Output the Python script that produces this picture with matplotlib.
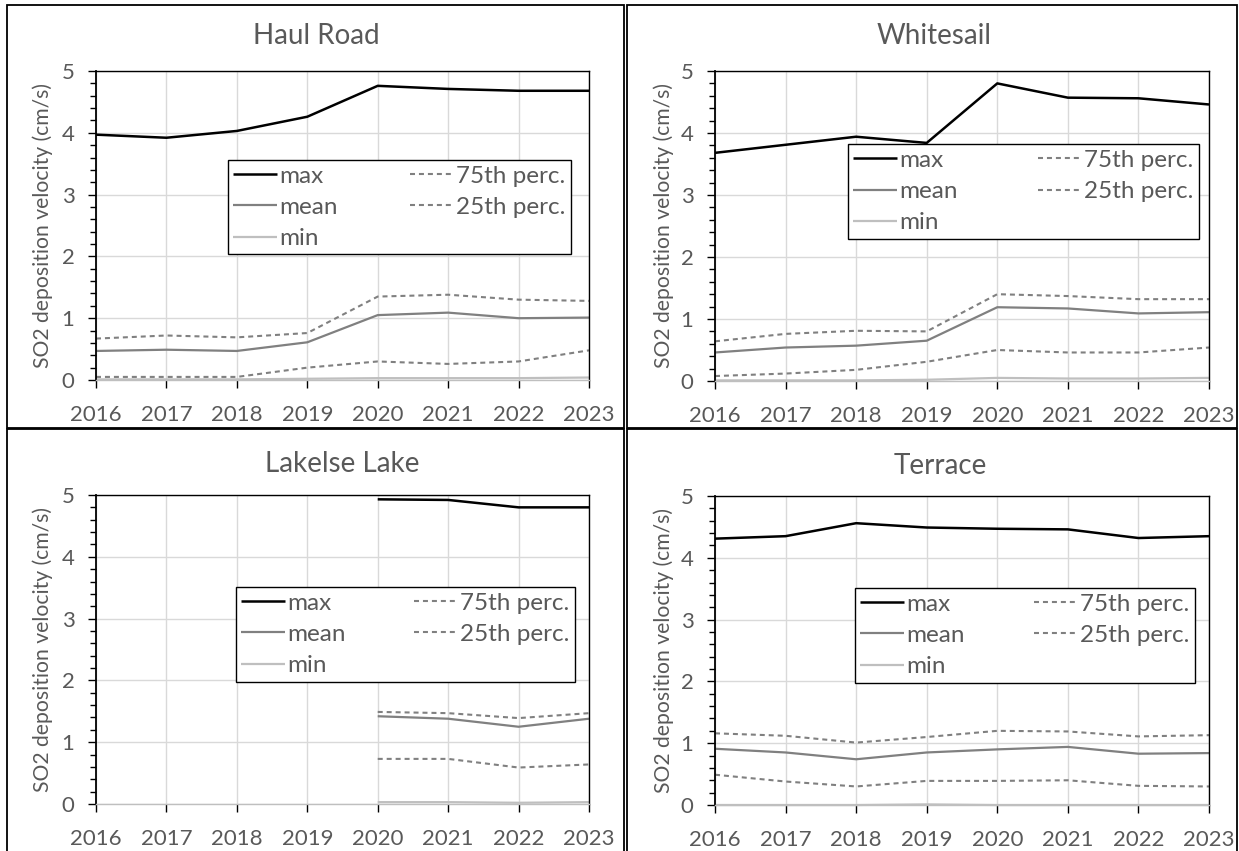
import numpy as np
import matplotlib.pyplot as plt
from matplotlib.patches import Rectangle
from matplotlib.ticker import MultipleLocator

plt.rcParams['font.family'] = ['Lato', 'DejaVu Sans']

years = np.arange(2016, 2024)
nan = np.nan

sites = ["Haul Road", "Whitesail", "Lakelse Lake", "Terrace"]

# SO2 deposition velocity statistics per year (cm/s)
haul_max = [3.97, 3.92, 4.03, 4.26, 4.76, 4.71, 4.68, 4.68]
haul_p75 = [0.67, 0.72, 0.69, 0.76, 1.35, 1.38, 1.30, 1.28]
haul_mean = [0.47, 0.49, 0.47, 0.61, 1.05, 1.09, 1.00, 1.01]
haul_p25 = [0.05, 0.05, 0.05, 0.20, 0.30, 0.26, 0.30, 0.48]
haul_min = [0.01, 0.01, 0.01, 0.02, 0.03, 0.03, 0.03, 0.04]

white_max = [3.68, 3.81, 3.94, 3.84, 4.80, 4.57, 4.56, 4.46]
white_p75 = [0.64, 0.76, 0.81, 0.80, 1.40, 1.37, 1.32, 1.32]
white_mean = [0.46, 0.54, 0.57, 0.65, 1.19, 1.17, 1.09, 1.11]
white_p25 = [0.08, 0.12, 0.18, 0.31, 0.50, 0.46, 0.46, 0.54]
white_min = [0.01, 0.01, 0.01, 0.02, 0.05, 0.04, 0.04, 0.05]

lake_max = [nan, nan, nan, nan, 4.93, 4.92, 4.80, 4.80]
lake_p75 = [nan, nan, nan, nan, 1.49, 1.47, 1.39, 1.47]
lake_mean = [nan, nan, nan, nan, 1.42, 1.38, 1.25, 1.38]
lake_p25 = [nan, nan, nan, nan, 0.73, 0.73, 0.59, 0.64]
lake_min = [nan, nan, nan, nan, 0.03, 0.03, 0.02, 0.03]

terr_max = [4.31, 4.35, 4.56, 4.49, 4.47, 4.46, 4.32, 4.35]
terr_p75 = [1.16, 1.12, 1.01, 1.10, 1.20, 1.19, 1.11, 1.13]
terr_mean = [0.91, 0.85, 0.74, 0.85, 0.90, 0.94, 0.83, 0.84]
terr_p25 = [0.49, 0.38, 0.30, 0.39, 0.39, 0.40, 0.31, 0.30]
terr_min = [0.00, 0.00, 0.00, 0.01, 0.00, 0.00, 0.00, 0.00]

data = [
    (haul_max, haul_mean, haul_min, haul_p75, haul_p25),
    (white_max, white_mean, white_min, white_p75, white_p25),
    (lake_max, lake_mean, lake_min, lake_p75, lake_p25),
    (terr_max, terr_mean, terr_min, terr_p75, terr_p25),
]

W, H = 1239, 851
fig = plt.figure(figsize=(W / 100, H / 100), dpi=100)
txt = "#595959"
grid = "#d9d9d9"

# plot areas in pixels: left, top, right, bottom
boxes = [(96, 71, 589, 380), (715, 71, 1209, 381),
         (96, 495, 589, 804), (715, 496, 1209, 805)]
# chart-area frames
frames = [(7, 5, 624, 428), (627, 5, 1237, 428),
          (7, 429, 624, 870), (627, 429, 1237, 870)]
titles_xy = [(316, 36), (934, 36), (342, 464), (940, 466)]
ylab_x = [43, 664, 43, 664]
legend_box = [(0.268, 0.711, 0.695), (0.269, 0.763, 0.710),
              (0.283, 0.701, 0.688), (0.283, 0.701, 0.689)]

styles = [
    dict(color="black", lw=1.8, ls="-", label="max"),
    dict(color="#808080", lw=1.6, ls="-", label="mean"),
    dict(color="#bfbfbf", lw=1.6, ls="-", label="min"),
    dict(color="#808080", lw=1.5, ls=(0, (2.4, 1.9)), label="75th perc."),
    dict(color="#808080", lw=1.5, ls=(0, (2.4, 1.9)), label="25th perc."),
]

for i, name in enumerate(sites):
    l, t, r, b = boxes[i]
    ax = fig.add_axes([l / W, 1 - b / H, (r - l) / W, (b - t) / H])
    for series, st in zip(data[i], styles):
        ax.plot(years, series, solid_capstyle="butt", clip_on=False, **st)

    ax.set_xlim(2016, 2023)
    ax.set_ylim(0, 5)
    ax.set_xticks(years)
    ax.set_yticks(range(6))
    ax.yaxis.set_minor_locator(MultipleLocator(0.2))
    ax.grid(True, which="major", color=grid, lw=1.0, zorder=0)
    ax.set_axisbelow(True)

    for side in ["left", "top", "right"]:
        ax.spines[side].set_color("black")
        ax.spines[side].set_linewidth(1.0)
    ax.spines["left"].set_linewidth(1.3)
    ax.spines["bottom"].set_color("#bfbfbf")
    ax.spines["bottom"].set_linewidth(1.0)

    ax.tick_params(axis="y", which="major", direction="out", length=5.5,
                   width=1.0, color="black", pad=10, labelsize=16,
                   labelcolor=txt)
    ax.tick_params(axis="y", which="minor", direction="out", length=4.5,
                   width=1.0, color="black")
    ax.tick_params(axis="x", direction="out", length=6, width=1.0,
                   color="black", pad=12, labelsize=16, labelcolor=txt)

    x0, ytop, w = legend_box[i]
    leg = ax.legend(ncol=2, loc="upper left", mode="expand",
                    bbox_to_anchor=(x0, ytop - 0.3, w, 0.3),
                    borderaxespad=0, fontsize=17.5, frameon=True,
                    fancybox=False, framealpha=1, edgecolor="black",
                    handlelength=1.8, handletextpad=0.1, borderpad=0.22,
                    labelspacing=0.42, columnspacing=1.0)
    leg.get_frame().set_linewidth(1.0)
    for tx in leg.get_texts():
        tx.set_color(txt)

    tx_, ty_ = titles_xy[i]
    fig.text(tx_ / W, 1 - ty_ / H, name, ha="center", va="center",
             fontsize=20, color=txt)
    fig.text(ylab_x[i] / W, 1 - ((t + b) / 2) / H,
             "SO2 deposition velocity (cm/s)", rotation=90,
             ha="center", va="center", fontsize=15.2, color=txt)

for fx0, fy0, fx1, fy1 in frames:
    fig.patches.append(Rectangle((fx0 / W, 1 - fy1 / H), (fx1 - fx0) / W,
                                 (fy1 - fy0) / H, transform=fig.transFigure,
                                 fill=False, edgecolor="black", lw=1.3))

fig.savefig("out.png", dpi=100, facecolor="white")
